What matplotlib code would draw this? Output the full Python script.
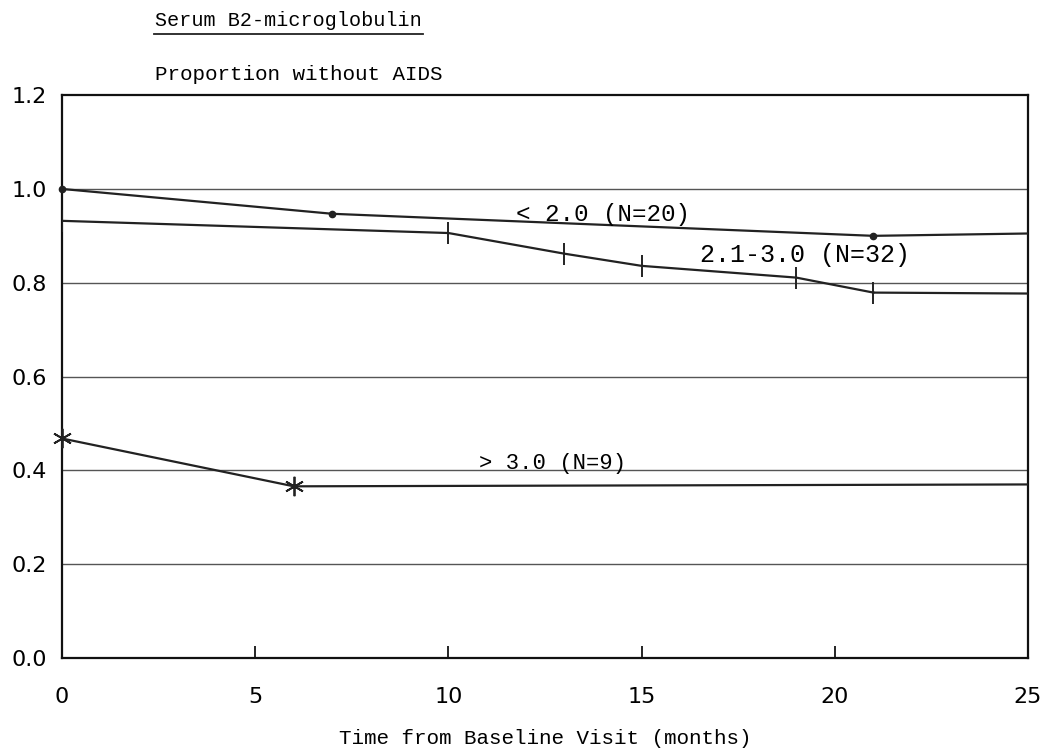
from matplotlib import pyplot as plt
from matplotlib.lines import Line2D

# 数据
months_lt2 = [0, 7, 21, 25]
prop_lt2 = [1.0, 0.947, 0.90, 0.905]
months_mid = [0, 10, 13, 15, 19, 21, 25]
prop_mid = [0.932, 0.906, 0.862, 0.836, 0.811, 0.779, 0.777]
months_gt3 = [0, 6, 25]
prop_gt3 = [0.468, 0.366, 0.37]
xticks = [0, 5, 10, 15, 20, 25]
yticks = [0.0, 0.2, 0.4, 0.6, 0.8, 1.0, 1.2]

mono = ['Liberation Mono', 'DejaVu Sans Mono']
sans = ['DejaVu Sans']

fig = plt.figure(figsize=(10.49, 7.49), dpi=100)
ax = fig.add_axes([0.0591, 0.1215, 0.9209, 0.7515])

for y in yticks[1:-1]:
    ax.axhline(y, color='#555555', lw=1.0, zorder=1)

ax.plot(months_lt2[:-1], prop_lt2[:-1], color='#222222', lw=1.6, marker='o', ms=4.5, zorder=3, clip_on=False)
ax.plot(months_lt2[-2:], prop_lt2[-2:], color='#222222', lw=1.6, zorder=3)
ax.plot(months_mid[:-1], prop_mid[:-1], color='#222222', lw=1.6, marker='|', ms=16, mew=1.4, zorder=3)
ax.plot(months_mid[-2:], prop_mid[-2:], color='#222222', lw=1.6, zorder=3)
ax.plot(months_gt3[:-1], prop_gt3[:-1], color='#222222', lw=1.6, marker=(6, 2, 0), ms=14, mew=1.3, zorder=3,
        clip_on=False)
ax.plot(months_gt3[-2:], prop_gt3[-2:], color='#222222', lw=1.6, zorder=3)

ax.text(11.75, 0.945, '< 2.0 (N=20)', fontsize=17.5, family=mono, ha='left', va='center')
ax.text(16.5, 0.86, '2.1-3.0 (N=32)', fontsize=18, family=mono, ha='left', va='center')
ax.text(10.8, 0.415, '> 3.0 (N=9)', fontsize=16, family=mono, ha='left', va='center')

ax.set_xlim(0, 25)
ax.set_ylim(0, 1.2)
ax.set_xticks(xticks)
ax.set_xticklabels([str(t) for t in xticks], fontsize=16, family=sans)
ax.set_yticks(yticks)
ax.set_yticklabels(['%.1f' % t for t in yticks], fontsize=16, family=sans)
ax.tick_params(axis='x', direction='in', length=9, width=1.2, pad=21)
ax.tick_params(axis='y', length=0, pad=11)
for s in ax.spines.values():
    s.set_linewidth(1.6)
    s.set_color('#111111')

ax.set_xlabel('Time from Baseline Visit (months)', fontsize=15, family=mono, labelpad=16)

fig.text(0.148, 0.972, 'Serum B2-microglobulin', fontsize=14.5, family=mono, ha='left', va='center')
fig.add_artist(Line2D([0.147, 0.403], [0.955, 0.955], color='#222222', lw=1.3))
fig.text(0.148, 0.9, 'Proportion without AIDS', fontsize=15, family=mono, ha='left', va='center')

fig.savefig('out.png', dpi=100)
